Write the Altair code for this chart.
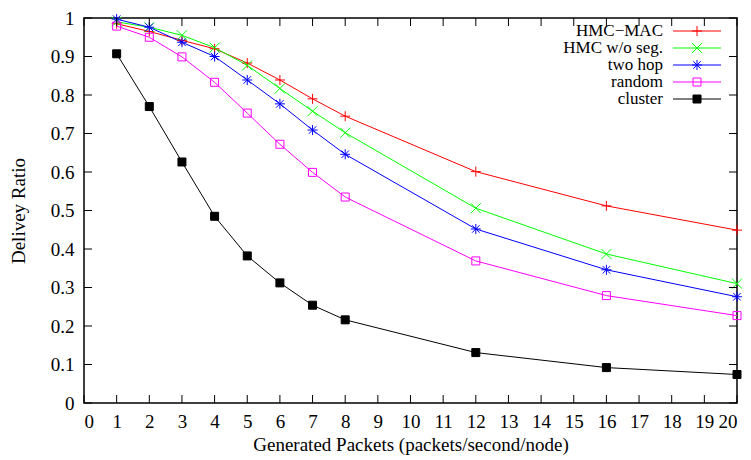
import altair as alt
import pandas as pd

packets = [1, 2, 3, 4, 5, 6, 7, 8, 12, 16, 20]
series_names = ["HMC\u2212MAC", "HMC w/o seg.", "two hop", "random", "cluster"]
hmc_mac = [0.985, 0.965, 0.942, 0.920, 0.883, 0.839, 0.790, 0.745, 0.601, 0.512, 0.449]
hmc_noseg = [0.990, 0.976, 0.955, 0.923, 0.877, 0.817, 0.758, 0.702, 0.506, 0.387, 0.310]
two_hop = [0.997, 0.976, 0.937, 0.900, 0.839, 0.777, 0.709, 0.646, 0.452, 0.346, 0.276]
random_ = [0.979, 0.950, 0.899, 0.833, 0.753, 0.672, 0.599, 0.535, 0.369, 0.279, 0.227]
cluster = [0.907, 0.770, 0.626, 0.485, 0.382, 0.312, 0.254, 0.216, 0.131, 0.092, 0.074]
x_ticks = list(range(0, 21))
y_ticks = [i / 10 for i in range(0, 11)]

values = [hmc_mac, hmc_noseg, two_hop, random_, cluster]
rows = []
for name, vals in zip(series_names, values):
    for p, v in zip(packets, vals):
        rows.append({"packets": p, "ratio": v, "series": name})
df = pd.DataFrame(rows)
df_leg = pd.DataFrame({"series": series_names})

W, H = 653, 385
FONT = "Liberation Serif"
FS = 19
LFS = 17
colors = ["#ff0000", "#00ff00", "#0000ff", "#ff00ff", "#000000"]
marker_paths = [
    "M-1,0H1M0,-1V1",
    "M-1,-1L1,1M-1,1L1,-1",
    "M-1,0H1M0,-1V1M-0.75,-0.75L0.75,0.75M-0.75,0.75L0.75,-0.75",
    "M-0.8,-0.8H0.8V0.8H-0.8Z",
    "M-0.8,-0.8H0.8V0.8H-0.8Z",
]
fills = ["transparent", "transparent", "transparent", "transparent", "#000000"]

xscale = alt.Scale(domain=[0, 20], nice=False)
yscale = alt.Scale(domain=[0, 1], nice=False)
xaxis = alt.Axis(values=x_ticks, format="d", title="Generated Packets (packets/second/node)",
                 ticks=False, domain=False, grid=False, labelPadding=9, titlePadding=4)
yaxis = alt.Axis(values=y_ticks, format=".1~f", title="Delivey Ratio",
                 ticks=False, domain=False, grid=False, labelPadding=10, titlePadding=22)

color_scale = alt.Scale(domain=series_names, range=colors)
shape_scale = alt.Scale(domain=series_names, range=marker_paths)
fill_scale = alt.Scale(domain=series_names, range=fills)

xq = alt.X("packets:Q", scale=xscale, axis=xaxis)
lines = alt.Chart(df).mark_line(strokeWidth=1).encode(
    x=xq,
    y=alt.Y("ratio:Q", scale=yscale, axis=yaxis),
    color=alt.Color("series:N", scale=color_scale, legend=None),
)
points = alt.Chart(df).mark_point(filled=False, size=100, strokeWidth=1, opacity=1).encode(
    x=xq,
    y=alt.Y("ratio:Q", scale=yscale, axis=None),
    color=alt.Color("series:N", scale=color_scale, legend=None),
    shape=alt.Shape("series:N", scale=shape_scale, legend=None),
    fill=alt.Fill("series:N", scale=fill_scale, legend=None),
)

# key (legend) in gnuplot style: right-aligned labels, line sample with marker
leg_y = alt.Y("series:N", scale=alt.Scale(type="point", domain=series_names, range=[13, 81], padding=0),
              axis=None)
leg_text = alt.Chart(df_leg).mark_text(align="right", baseline="middle", font=FONT, fontSize=LFS,
                                       color="black").encode(
    x=alt.value(579), y=leg_y, text="series:N")
leg_line = alt.Chart(df_leg).mark_rule(strokeWidth=1).encode(
    x=alt.value(589), x2=alt.value(637), y=leg_y,
    color=alt.Color("series:N", scale=color_scale, legend=None))
leg_mark = alt.Chart(df_leg).mark_point(filled=False, size=100, strokeWidth=1, opacity=1).encode(
    x=alt.value(613), y=leg_y,
    color=alt.Color("series:N", scale=color_scale, legend=None),
    shape=alt.Shape("series:N", scale=shape_scale, legend=None),
    fill=alt.Fill("series:N", scale=fill_scale, legend=None),
)

xt = pd.DataFrame({"t": x_ticks})
yt = pd.DataFrame({"t": y_ticks})
tx = alt.X("t:Q", scale=xscale, axis=xaxis)
ty = alt.Y("t:Q", scale=yscale, axis=None)
tick_bottom = alt.Chart(xt).mark_rule(color="black", strokeWidth=1).encode(
    x=tx, y=alt.value(H), y2=alt.value(H - 8))
tick_top = alt.Chart(xt).mark_rule(color="black", strokeWidth=1).encode(
    x=tx, y=alt.value(0), y2=alt.value(8))
tick_left = alt.Chart(yt).mark_rule(color="black", strokeWidth=1).encode(
    y=ty, x=alt.value(0), x2=alt.value(8))
tick_right = alt.Chart(yt).mark_rule(color="black", strokeWidth=1).encode(
    y=ty, x=alt.value(W), x2=alt.value(W - 8))

chart = alt.layer(
    lines, points, leg_text, leg_line, leg_mark, tick_bottom, tick_top, tick_left, tick_right
).resolve_scale(
    y="independent"
).properties(
    width=W, height=H,
    background="white",
    autosize=alt.AutoSizeParams(type="none"),
    padding={"left": 76, "top": 10, "right": 6, "bottom": 55},
).configure_view(
    stroke="black", strokeWidth=1.5
).configure_axis(
    labelFont=FONT, labelFontSize=FS, labelColor="black",
    titleFont=FONT, titleFontSize=FS, titleColor="black", titleFontWeight="normal"
)

chart.save("out.html", embed_options={"renderer": "svg", "actions": False})
